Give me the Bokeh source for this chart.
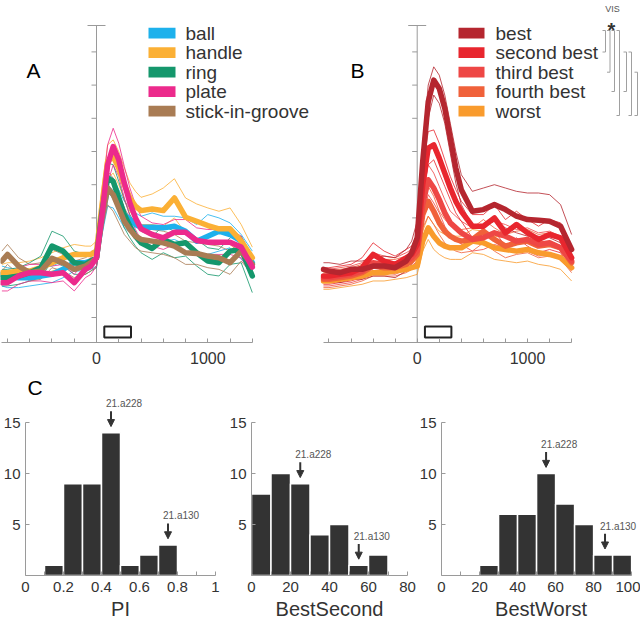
from bokeh.plotting import figure
from bokeh.models import (Range1d, FixedTicker, Arrow, NormalHead,
                          ColumnDataSource, CustomJSTickFormatter)
from bokeh.layouts import row, column
from bokeh.embed import file_html
from bokeh.resources import INLINE
from bokeh.core.properties import value

FONT = "Liberation Sans"
AXIS_GREY = "#9a9a9a"
TEXT_DARK = "#333333"

# ---------------- data: time courses (ms, firing rate units) ----------------
T = [-850, -800, -700, -600, -500, -400, -300, -200, -100, -50, 0, 50, 100, 150,
     200, 250, 300, 350, 400, 500, 600, 700, 800, 900, 1000, 1100, 1200, 1300, 1400]

OBJ_NAMES = ["ball", "handle", "ring", "plate", "stick-in-groove"]
OBJ_COLORS = ["#1db1ec", "#fbb035", "#15976c", "#ec2a8c", "#a97c54"]

BALL = [23, 22.5, 22, 22, 22.5, 23, 24.5, 26.5, 26.5, 27, 28, 40, 49, 47, 44, 41, 39.5, 38, 37.2, 37.2, 37, 37.5, 36, 33, 34.5, 36, 35, 33, 26.5]
BALL_UP = [25.5, 25, 24.5, 24.5, 25, 25.5, 27, 29, 29, 29.5, 30.5, 44, 53, 52, 48.5, 45, 43, 41.5, 40.5, 41.5, 40.5, 40.5, 40, 38, 41, 40, 38.5, 35, 30]
BALL_LO = [19.5, 19, 19, 19.5, 20, 20.5, 22, 24, 24, 24.5, 25.5, 35, 43.5, 43, 40, 37, 35.5, 34, 33.5, 33, 33, 33.5, 32, 29.5, 29, 30, 31, 27.5, 24.5]

HANDLE = [23.5, 23.5, 24, 24, 25, 26.5, 28, 29, 29, 29, 30, 44, 57, 58.5, 55, 50, 46, 43.5, 42.2, 42.7, 42.2, 46, 40.2, 39, 37.7, 36.7, 36.7, 33, 28]
HANDLE_UP = [26, 26.5, 26.5, 27, 28, 29.5, 31, 32, 31.5, 31.5, 33, 49, 62, 63.5, 60, 55, 50.5, 48, 46.2, 47.2, 49, 51.8, 46, 44.2, 43, 42, 43, 38, 31.2]
HANDLE_LO = [21, 21, 21.5, 21.5, 22, 24, 25, 26, 26, 26, 27, 40, 52, 53.5, 50, 45.5, 42, 39.5, 38, 38, 37.5, 40, 35.5, 34, 33, 32, 32, 29, 25]

RING = [22, 22, 22.5, 23.5, 25, 31.5, 30, 26.5, 26, 27, 28, 42, 52, 51, 46, 41, 37.5, 34.5, 32.5, 30.8, 33.5, 32, 32.5, 29.5, 27, 26.5, 30, 30.5, 22.5]
RING_UP = [24.5, 24.5, 25, 26.5, 28.5, 36, 34.5, 30, 29, 29.5, 31, 46, 56.5, 56, 51, 45.5, 41, 38, 36, 34.5, 37.5, 36, 36.5, 33.5, 31, 30.5, 34, 34.5, 27]
RING_LO = [19.5, 19.5, 20, 21, 22, 27, 25.5, 23, 23, 24, 25, 38, 47.5, 46.5, 41.5, 37, 34, 31.5, 29.5, 27.5, 29.5, 28, 28.5, 25.5, 23, 22.5, 26, 26.5, 17.5]

PLATE = [20.5, 20.5, 22.5, 23.5, 23.5, 23, 23.5, 20.5, 24.5, 25.5, 28, 41, 56, 61.5, 57.5, 50.5, 44.5, 40, 36.7, 35, 34, 35.7, 35.7, 33.2, 32.7, 32.7, 32.7, 31.2, 25.2]
PLATE_UP = [23, 23, 25, 26, 26, 25.5, 26, 23, 27, 28, 30.5, 46, 62, 67, 62.5, 55.5, 49, 44, 40.5, 38.5, 38, 39.5, 39.5, 37, 36.5, 36.5, 36.5, 34.5, 28.5]
PLATE_LO = [18, 18, 20, 21, 21, 20.5, 21, 18, 22, 23, 25.5, 36.5, 50.5, 56, 52.5, 46, 40.5, 36.5, 33.5, 31.5, 30.5, 32, 32, 29.5, 29, 29, 29, 28, 22]

STICK = [27, 29, 25.5, 23.5, 24, 27.8, 26.5, 24.5, 25.5, 26.5, 28, 40, 49, 47, 43, 39, 36.5, 34.5, 33.5, 33, 32.5, 31.5, 29.5, 29.3, 28.5, 28, 26.5, 30, 26]
STICK_UP = [30, 32, 28, 26, 26.5, 30.5, 29, 27, 28, 29, 30.5, 44, 54, 52, 47.5, 43, 40, 38, 37, 36.5, 36, 35, 33, 32.5, 32, 31.5, 30, 33, 29]
STICK_LO = [24, 26, 23, 21, 21.5, 25, 24, 22, 23, 24, 25.5, 36, 44, 42, 38.5, 35, 33, 31, 30, 29.5, 29, 28, 26, 26, 25, 24.5, 23, 27, 23]

RANK_NAMES = ["best", "second best", "third best", "fourth best", "worst"]
RANK_COLORS = ["#b5262f", "#e8262e", "#ee4745", "#f0613a", "#f99b2d"]

BEST = [24.5, 24, 23.5, 24.5, 24.5, 25.5, 25.5, 25, 27, 29.5, 34, 57, 75, 81.5, 79, 73, 64, 55, 48.5, 42, 42.5, 44, 42.5, 40.5, 39.5, 39.3, 39, 37.5, 30.5]
BEST_UP = [26.5, 26.5, 26, 27, 27, 28, 28.5, 28, 30.5, 33, 39, 62, 80, 85.5, 83, 77, 68.5, 60, 53, 48, 49, 50, 49, 48, 47.5, 47.5, 47, 44, 35]
BEST_LO = [21, 21, 20.5, 21.5, 21.5, 22.5, 22.5, 22, 24, 26, 31, 52, 70, 77, 74.5, 68.5, 59.5, 50.5, 44, 37.5, 37.5, 39, 37, 35.5, 34.5, 34.5, 34, 32.5, 26.5]

SECOND = [22.5, 22.5, 23, 23.5, 25, 29, 27, 26, 28, 29, 32, 50, 61, 62, 58, 53.5, 49, 45, 42, 37.5, 37.5, 40, 35.5, 38, 35.5, 33.5, 35, 34, 28]
SECOND_UP = [25, 25, 25.5, 26, 28, 32.5, 30, 28.5, 30.5, 31.5, 35, 55, 66, 66.5, 62.5, 57.5, 52.5, 48.5, 45, 41, 41, 44, 39.5, 42, 39.5, 37.5, 39.5, 38.5, 31.5]
SECOND_LO = [20, 20, 20.5, 21, 22, 25.5, 24, 23.5, 25.5, 26.5, 29, 45, 56, 57.5, 53.5, 49.5, 45.5, 41.5, 39, 34, 34, 36, 31.5, 34, 31.5, 29.5, 30.5, 29.5, 24.5]

THIRD = [22, 22, 22.5, 23, 24, 26.5, 26, 25.5, 27, 28, 30, 44, 51.5, 49, 45.5, 41.5, 38.5, 37, 35.5, 33.5, 34, 35.5, 34.5, 33, 33.5, 32, 32.5, 31, 27]
THIRD_UP = [24.5, 24.5, 25, 25.5, 26.5, 29.5, 28.5, 28, 29.5, 30.5, 33, 48, 56, 53.5, 49.5, 45.5, 42, 40.5, 39, 37, 37.5, 39, 38, 36.5, 37, 35.5, 36, 34.5, 30]
THIRD_LO = [19.5, 19.5, 20, 20.5, 21.5, 23.5, 23.5, 23, 24.5, 25.5, 27, 40, 47, 44.5, 41.5, 37.5, 35, 33.5, 32, 30, 30.5, 32, 31, 29.5, 30, 28.5, 29, 27.5, 24]

FOURTH = [21.5, 21.5, 22, 22.5, 23.5, 25.5, 25, 25, 26, 27, 29, 41, 45, 42, 38.5, 36, 34.5, 33.5, 33, 33.5, 36, 33.5, 31.5, 32.5, 33, 31.5, 32, 31, 26.5]
FOURTH_UP = [24, 24, 24.5, 25, 26, 28.5, 27.5, 27.5, 28.5, 29.5, 31.5, 45, 49.5, 46.5, 42, 39.5, 38, 37, 36.5, 37, 39.5, 37, 35, 36, 36.5, 35, 35.5, 34.5, 29.5]
FOURTH_LO = [19, 19, 19.5, 20, 21, 22.5, 22.5, 22.5, 23.5, 24.5, 26.5, 37, 40.5, 38, 35, 32.5, 31, 30, 29.5, 30, 32.5, 30, 28, 29, 29.5, 28, 28.5, 27.5, 23.5]

WORST = [21, 21, 21.5, 22, 22.5, 23.5, 23.5, 24, 24.5, 25, 25.5, 33, 37, 34.5, 32.5, 31.5, 31, 31, 31, 33, 32.5, 31, 30.5, 30, 30.5, 29.5, 29, 28, 25]
WORST_UP = [23.5, 23.5, 24, 24.5, 25, 26, 26, 26.5, 27, 27.5, 28, 36, 40.5, 38, 36, 35, 34.5, 34.5, 34.5, 36.5, 36, 34.5, 34, 33.5, 34, 33, 32.5, 31.5, 28]
WORST_LO = [18.5, 18.5, 19, 19.5, 20, 21, 21, 21.5, 22, 22.5, 23, 30, 33.5, 30.5, 29, 28, 27.5, 27.5, 27.5, 29.5, 29, 27.5, 27, 26.5, 27, 26, 25.5, 24.5, 21]

Y_TICKS = [10, 20, 30, 40, 50, 60, 70, 80, 90]
X_MAJOR = [0, 1000]
X_MINOR = [-800, -600, -400, -200, 200, 400, 600, 800, 1200, 1400]
STIM_WINDOW = [70, 310]
TRACE_END = 1400

# ---------------- data: histograms ----------------
PI_EDGES = [0.1, 0.2, 0.3, 0.4, 0.5, 0.6, 0.7, 0.8]
PI_COUNTS = [1, 9, 9, 14, 1, 2, 3]
PI_TICKS = [0, 0.2, 0.4, 0.6, 0.8, 1]
PI_MINOR = [0.1, 0.3, 0.5, 0.7, 0.9]

BS_EDGES = [0, 10, 20, 30, 40, 50, 60, 70]
BS_COUNTS = [8, 10, 9, 4, 5, 1, 2]
BS_TICKS = [0, 20, 40, 60, 80]
BS_MINOR = [10, 30, 50, 70]

BW_EDGES = [20, 30, 40, 50, 60, 70, 80, 90, 100]
BW_COUNTS = [1, 6, 6, 10, 7, 5, 2, 2]
BW_TICKS = [0, 20, 40, 60, 80, 100]
BW_MINOR = [10, 30, 50, 70, 90]

MARK_NAMES = ["21.a228", "21.a130"]
PI_MARKS = [0.45, 0.75]
BS_MARKS = [25, 55]
BW_MARKS = [55, 86]

HIST_Y_TICKS = [5, 10, 15]

# ---------------- layout helpers (page pixels -> data) ----------------
TOP_H = 370
PANEL_A = dict(left_px=0, frame_w=318, fig_w=320, zero_px=96.0, px_per_ms=0.1113)
PANEL_B = dict(left_px=320, frame_w=320, fig_w=320, zero_px=416.7, px_per_ms=0.1103)


def t_of(panel, px):
    return (px - panel["zero_px"]) / panel["px_per_ms"]


def v_of(py):
    return 10 + (317 - py) / 3.32


ROW_PY = [32.7, 52.2, 71.7, 91.2, 110.7]


def trace_panel(panel, means, ups, los, colors, names, letter, letter_px,
                sw_px, text_px, order):
    x0 = t_of(panel, panel["left_px"])
    x1 = t_of(panel, panel["left_px"] + panel["frame_w"])
    p = figure(width=panel["fig_w"], height=TOP_H,
               x_range=Range1d(x0, x1), y_range=Range1d(v_of(342), v_of(0)),
               output_backend="svg", toolbar_location=None, y_axis_location=None,
               min_border_left=0, min_border_right=panel["fig_w"] - panel["frame_w"],
               min_border_top=0, min_border_bottom=TOP_H - 342)
    p.outline_line_color = None
    p.grid.visible = False
    p.background_fill_color = "white"
    p.border_fill_color = "white"

    ax = p.xaxis[0]
    ax.ticker = FixedTicker(ticks=X_MAJOR, minor_ticks=X_MINOR)
    ax.bounds = (max(x0, -850), TRACE_END)
    ax.axis_line_color = AXIS_GREY
    ax.major_tick_line_color = AXIS_GREY
    ax.minor_tick_line_color = AXIS_GREY
    ax.major_tick_in = 4
    ax.major_tick_out = 0
    ax.minor_tick_in = 4
    ax.minor_tick_out = 0
    ax.major_label_standoff = 9
    ax.major_label_text_font = FONT
    ax.major_label_text_font_size = "16px"
    ax.major_label_text_color = TEXT_DARK

    # vertical axis at time zero
    tick_len = 5 / panel["px_per_ms"]
    cap = 9 / panel["px_per_ms"]
    p.segment(x0=[0], y0=[v_of(342)], x1=[0], y1=[v_of(25)], line_color=AXIS_GREY, line_width=1)
    p.segment(x0=[-tick_len] * len(Y_TICKS), y0=Y_TICKS, x1=[0] * len(Y_TICKS), y1=Y_TICKS,
              line_color=AXIS_GREY, line_width=1)
    p.segment(x0=[-cap], y0=[v_of(25)], x1=[cap], y1=[v_of(25)], line_color=AXIS_GREY, line_width=1)

    # thin lines
    for i in order:
        p.line(T, ups[i], line_color=colors[i], line_width=0.9, line_alpha=0.9)
        p.line(T, los[i], line_color=colors[i], line_width=0.9, line_alpha=0.9)
    # thick means
    for i in order:
        p.line(T, means[i], line_color=colors[i], line_width=5.5,
               line_join="round", line_cap="round")

    # stimulus window box
    p.quad(left=[STIM_WINDOW[0]], right=[STIM_WINDOW[1]], bottom=[v_of(337)], top=[v_of(326)],
           fill_color=None, line_color="#222222", line_width=2)

    # legend (manual)
    half = 5.4
    p.quad(left=[t_of(panel, sw_px[0])] * 5, right=[t_of(panel, sw_px[1])] * 5,
           bottom=[v_of(py + half) for py in ROW_PY], top=[v_of(py - half) for py in ROW_PY],
           fill_color=colors, line_color=None)
    p.text(x=[t_of(panel, text_px)] * 5, y=[v_of(py) for py in ROW_PY], text=names,
           text_baseline="middle", text_align="left", text_font=value(FONT),
           text_font_size="19px", text_color=TEXT_DARK)

    p.text(x=[t_of(panel, letter_px)], y=[v_of(70)], text=[letter],
           text_baseline="alphabetic", text_align="left", text_font=value(FONT),
           text_font_size="21px", text_color="black")
    return p


pA = trace_panel(PANEL_A,
                 [BALL, HANDLE, RING, PLATE, STICK],
                 [BALL_UP, HANDLE_UP, RING_UP, PLATE_UP, STICK_UP],
                 [BALL_LO, HANDLE_LO, RING_LO, PLATE_LO, STICK_LO],
                 OBJ_COLORS, OBJ_NAMES, "A", 26, (148, 175), 185, [0, 1, 2, 4, 3])

pB = trace_panel(PANEL_B,
                 [BEST, SECOND, THIRD, FOURTH, WORST],
                 [BEST_UP, SECOND_UP, THIRD_UP, FOURTH_UP, WORST_UP],
                 [BEST_LO, SECOND_LO, THIRD_LO, FOURTH_LO, WORST_LO],
                 RANK_COLORS, RANK_NAMES, "B", 350, (458, 484), 495, [4, 3, 2, 1, 0])

# significance brackets in panel B
BRACKET_PAIRS = [(0, 1), (0, 2), (0, 3), (0, 4), (1, 3), (1, 4), (2, 4)]
BRACKET_X_PX = [605, 609.5, 614, 619, 626, 631, 637]
BRACKET_END_PY = [30, 51.5, 71.7, 91, 115]
xs, ys = [], []
for (a, b), bx in zip(BRACKET_PAIRS, BRACKET_X_PX):
    xx = t_of(PANEL_B, bx)
    xl = t_of(PANEL_B, bx - 3)
    ya = v_of(BRACKET_END_PY[a])
    yb = v_of(BRACKET_END_PY[b])
    xs.append([xl, xx, xx, xl])
    ys.append([ya, ya, yb, yb])
pB.multi_line(xs=xs, ys=ys, line_color="#a0a0a0", line_width=1)
pB.text(x=[t_of(PANEL_B, 612)], y=[v_of(8.5)], text=["VIS"], text_align="center",
        text_baseline="alphabetic", text_font=value(FONT), text_font_size="9px",
        text_color="#555555")
pB.text(x=[t_of(PANEL_B, 611)], y=[v_of(29)], text=["*"], text_align="center",
        text_baseline="alphabetic", text_font=value(FONT), text_font_size="20px",
        text_font_style="bold", text_color="#333333")

# ---------------- histograms ----------------
HIST_H = 624 - TOP_H
HIST_TOP_BORDER = 28
HIST_BOTTOM_BORDER = 49
HIST_PX_PER_COUNT = 10.2
HIST_YMAX = (HIST_H - HIST_TOP_BORDER - HIST_BOTTOM_BORDER) / HIST_PX_PER_COUNT


def hist_panel(edges, counts, marks, xmax, ticks, minor, title, width, mbl, mbr,
               view_max=None, pi_fmt=False, letter=None):
    view_max = xmax if view_max is None else view_max
    p = figure(width=width, height=HIST_H, x_range=Range1d(0, view_max),
               y_range=Range1d(0, HIST_YMAX), output_backend="svg", toolbar_location=None,
               min_border_left=mbl, min_border_right=mbr, min_border_top=HIST_TOP_BORDER,
               min_border_bottom=HIST_BOTTOM_BORDER)
    p.outline_line_color = None
    p.grid.visible = False
    p.border_fill_color = "white"
    if letter:
        p.title.text = letter
        p.title.align = "left"
        p.title.text_font = FONT
        p.title.text_font_size = "21px"
        p.title.text_font_style = "normal"
        p.title.text_color = "black"
        p.title.standoff = 0
        p.title.offset = 2

    p.quad(left=edges[:-1], right=edges[1:], bottom=[0] * len(counts), top=counts,
           fill_color="#333333", line_color="white", line_width=1.5)

    # arrows pointing at two example neurons
    heights = []
    for m in marks:
        h = 0
        for k in range(len(counts)):
            if edges[k] <= m < edges[k + 1]:
                h = counts[k]
        heights.append(h)
    src = ColumnDataSource(dict(x=marks, y0=[h + 2.1 for h in heights],
                                y1=[h + 0.6 for h in heights],
                                yt=[h + 2.85 for h in heights], name=MARK_NAMES))
    p.add_layout(Arrow(end=NormalHead(size=7, fill_color="#333333", line_color="#333333"),
                       x_start="x", y_start="y0", x_end="x", y_end="y1", source=src,
                       line_color="#333333", line_width=2))
    p.text(x="x", y="yt", text="name", source=src, x_offset=-5, text_align="left",
           text_baseline="middle", text_font=value(FONT), text_font_size="10px",
           text_color="#555555")

    ax = p.xaxis[0]
    ax.ticker = FixedTicker(ticks=ticks, minor_ticks=minor)
    ax.bounds = (0, xmax)
    if pi_fmt:
        ax.formatter = CustomJSTickFormatter(code="return tick.toString();")
    ax.axis_label = title
    ax.axis_label_text_font = FONT
    ax.axis_label_text_font_style = "normal"
    ax.axis_label_text_font_size = "20px"
    ax.axis_label_text_color = TEXT_DARK
    ax.axis_label_standoff = 3
    ax.major_label_standoff = 6

    ay = p.yaxis[0]
    ay.ticker = FixedTicker(ticks=HIST_Y_TICKS)
    ay.bounds = (0, 15)
    ay.major_label_standoff = 5
    for a in (ax, ay):
        a.axis_line_color = AXIS_GREY
        a.major_tick_line_color = AXIS_GREY
        a.minor_tick_line_color = AXIS_GREY
        a.major_tick_in = 4
        a.major_tick_out = 0
        a.minor_tick_in = 4
        a.minor_tick_out = 0
        a.major_label_text_font = FONT
        a.major_label_text_font_size = "15px"
        a.major_label_text_color = TEXT_DARK
    ay.minor_tick_line_color = None
    return p


h1 = hist_panel(PI_EDGES, PI_COUNTS, PI_MARKS, 1, PI_TICKS, PI_MINOR, "PI", 224, 22, 9,
                pi_fmt=True, letter="C")
h2 = hist_panel(BS_EDGES, BS_COUNTS, BS_MARKS, 80, BS_TICKS, BS_MINOR, "BestSecond", 192, 27, 9)
h3 = hist_panel(BW_EDGES, BW_COUNTS, BW_MARKS, 100, BW_TICKS, BW_MINOR, "BestWorst", 224, 22, 0,
                view_max=202 / 1.93)

layout = column(row(pA, pB), row(h1, h2, h3))
open("out.html", "w").write(file_html(layout, INLINE))
